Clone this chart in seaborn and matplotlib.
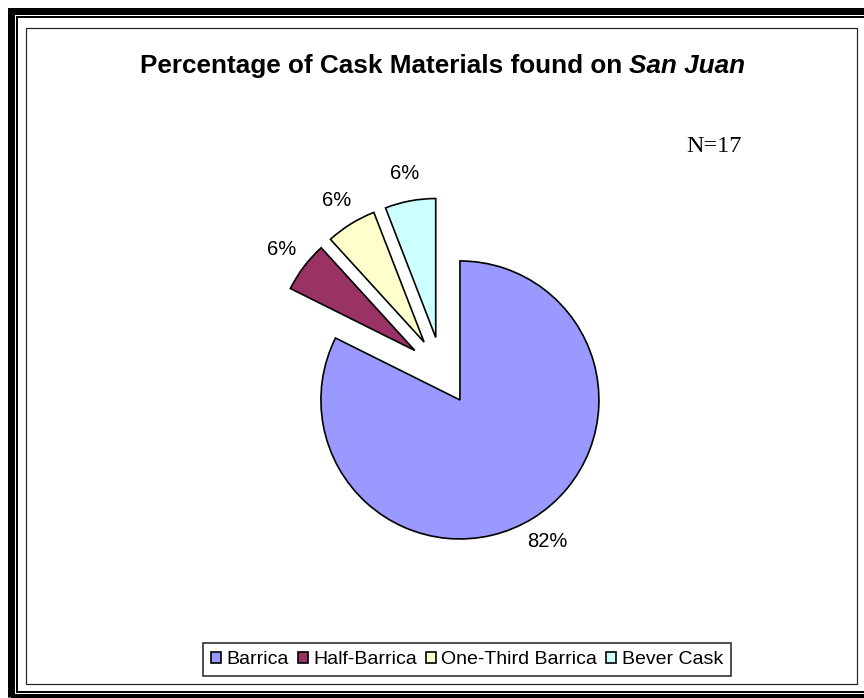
import matplotlib
matplotlib.use("Agg")
import matplotlib.pyplot as plt
from matplotlib.patches import Rectangle
import seaborn as sns

sns.set_theme(style="white")
plt.rcParams["font.family"] = ["Liberation Sans", "DejaVu Sans"]
plt.rcParams["text.color"] = "black"

# datos
categories = ["Barrica", "Half-Barrica", "One-Third Barrica", "Bever Cask"]
counts = [14, 1, 1, 1]
colors = ["#9999FF", "#993366", "#FFFFCC", "#CCFFFF"]
n_total = 17

W, H = 864, 698
fig = plt.figure(figsize=(W / 100, H / 100), dpi=100)
fig.patch.set_facecolor("white")


def fx(x):
    return x / W


def fy(y):
    return 1 - y / H


# marco doble alrededor de la figura (recortado a derecha y abajo)
def frame(x0, y0, x1, y1, lw_px, color="black"):
    fig.add_artist(Rectangle((fx(x0), fy(y1)), fx(x1) - fx(x0), fy(y0) - fy(y1),
                             transform=fig.transFigure, fill=False,
                             edgecolor=color, linewidth=lw_px * 0.72,
                             clip_on=False))


frame(10.5, 11, 872, 697, 7)
frame(16.5, 17, 864.5, 691.5, 2)
frame(26, 28, 857, 684, 1.2, "#222222")

# pie
cx, cy, r = 442, 371, 139
half = 300
ax = fig.add_axes([fx(cx - half), fy(cy + half), 2 * half / W, 2 * half / H])
wedges, texts, autotexts = ax.pie(
    counts, colors=colors, startangle=90, counterclock=False,
    explode=[0.245] * len(counts), autopct="%1.0f%%", pctdistance=1.2,
    wedgeprops=dict(edgecolor="black", linewidth=1.2),
    textprops=dict(fontsize=14.5, color="black"),
)
ax.set_xlim(-half / r, half / r)
ax.set_ylim(-half / r, half / r)
ax.set_axis_off()

# título con "San Juan" en cursiva
t1 = fig.text(0, fy(73), "Percentage of Cask Materials found on ",
              fontsize=18.8, fontweight="bold", va="baseline", ha="left")
t2 = fig.text(0, fy(73), "San Juan", fontsize=18.8, fontweight="bold",
              fontstyle="italic", va="baseline", ha="left")
renderer = fig.canvas.get_renderer()
w1 = t1.get_window_extent(renderer).width
w2 = t2.get_window_extent(renderer).width
x_start = 442.5 - (w1 + w2) / 2
t1.set_x(fx(x_start))
t2.set_x(fx(x_start + w1))

fig.text(fx(714), fy(152), f"N={n_total}", fontsize=17.5,
         family=["Liberation Serif", "DejaVu Serif"], ha="center", va="baseline")

leg = fig.legend(wedges, categories, loc="center", ncol=4,
                 bbox_to_anchor=(fx(467), fy(659.5)), fontsize=14,
                 handlelength=0.5, handleheight=0.5, handletextpad=0.3,
                 columnspacing=0.45, borderpad=0.4, borderaxespad=0,
                 frameon=True, fancybox=False, framealpha=1)
leg.get_frame().set_edgecolor("#333333")
leg.get_frame().set_linewidth(1.2)
for t in leg.get_texts():
    t.set_color("black")

fig.savefig("out.png", dpi=100)
